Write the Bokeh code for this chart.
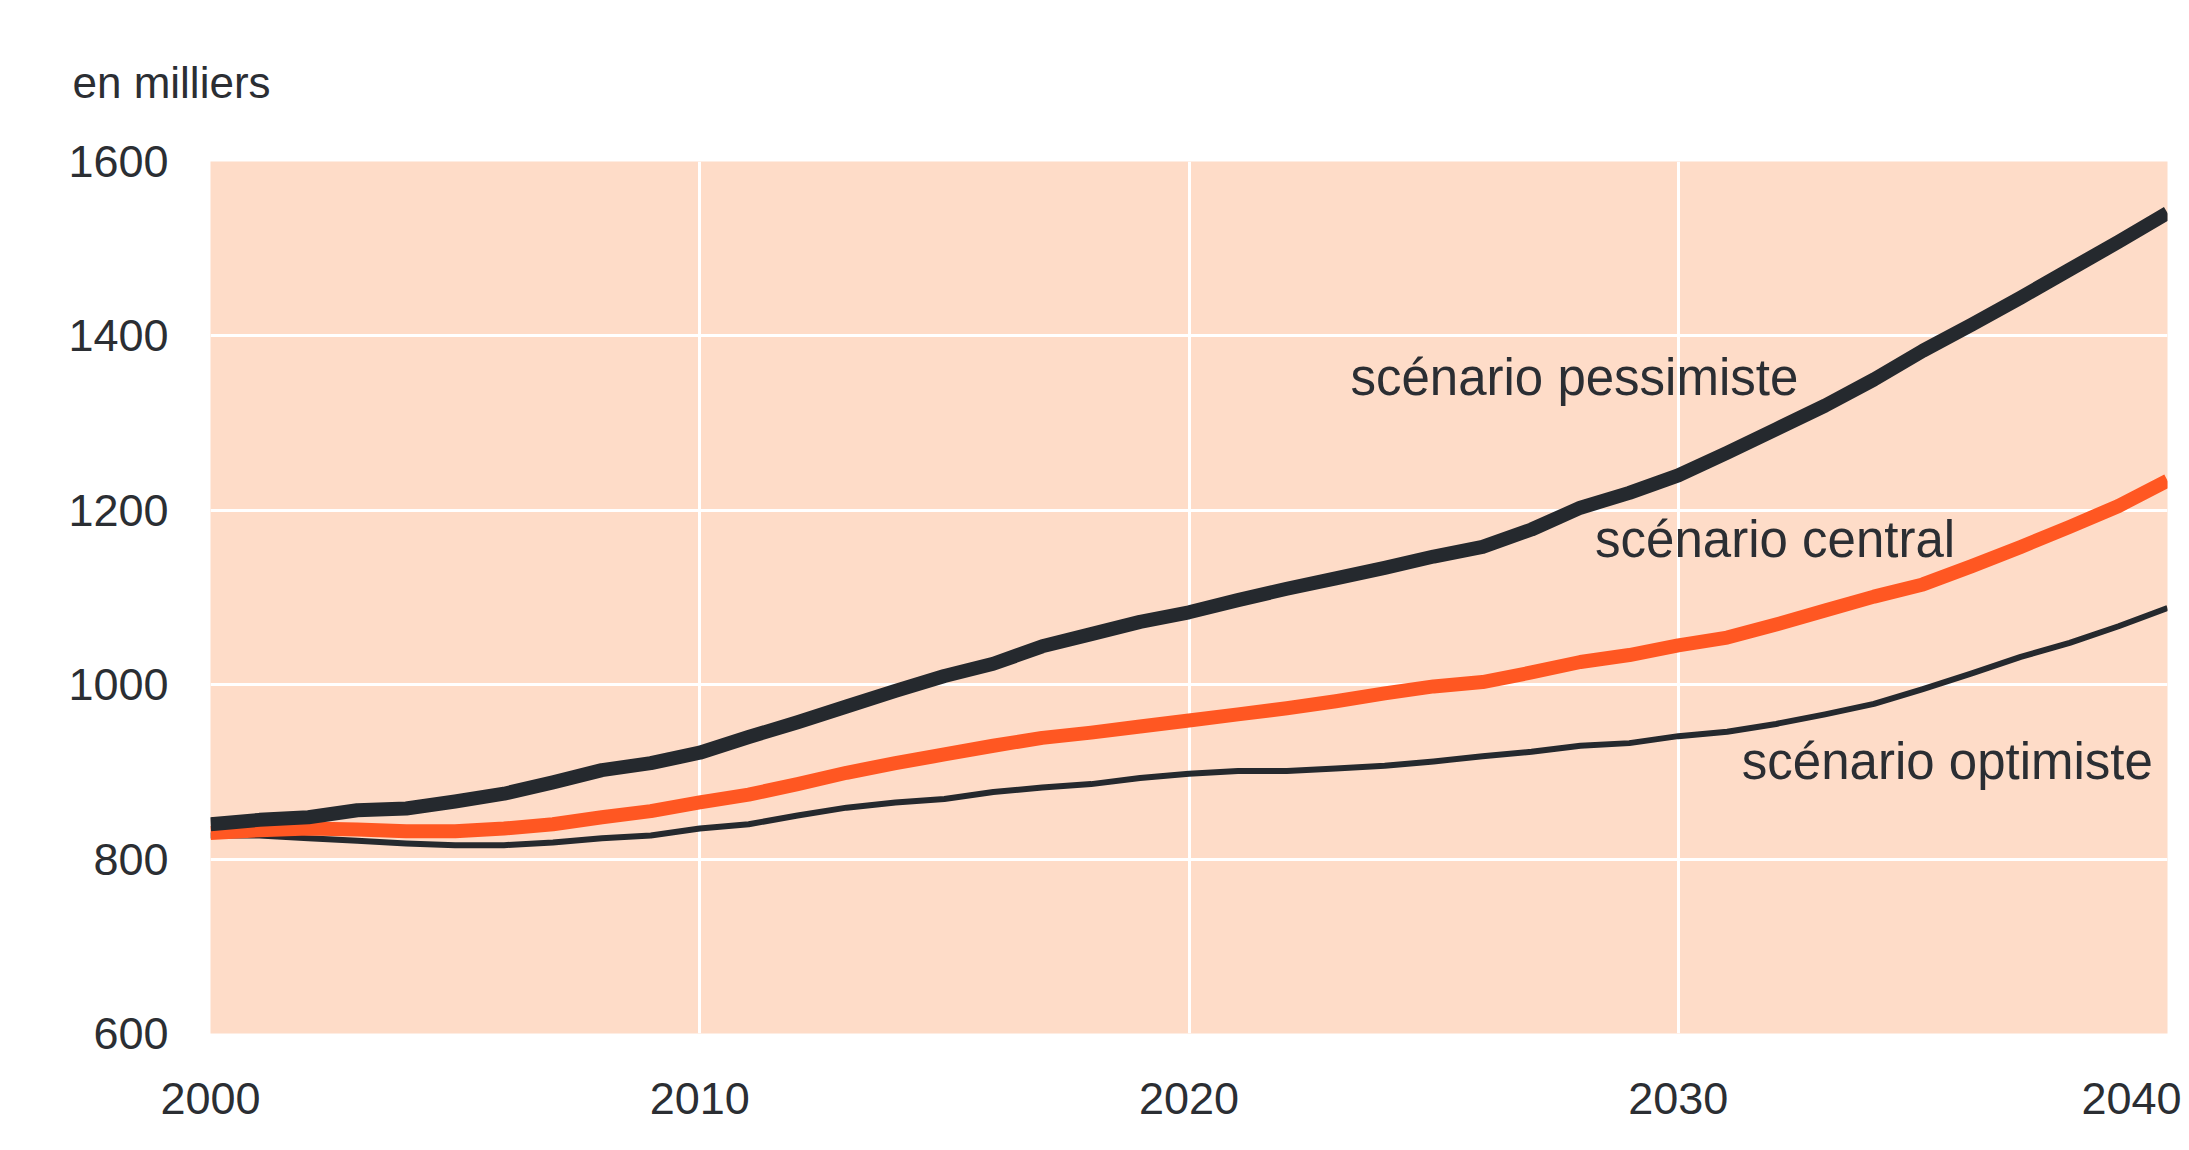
from bokeh.plotting import figure
from bokeh.models import Range1d, FixedTicker, Label
from bokeh.embed import file_html
from bokeh.resources import INLINE

years = list(range(2000, 2041))
pessimiste = [840, 845, 848, 856, 858, 866, 875, 888, 902, 910,
              922, 940, 957, 975, 993, 1010, 1024, 1044, 1058, 1072,
              1083, 1097, 1110, 1122, 1134, 1147, 1158, 1178, 1203, 1220,
              1240, 1266, 1293, 1320, 1350, 1383, 1413, 1444, 1476, 1508, 1541]
central = [830, 833, 835, 834, 832, 832, 835, 840, 848, 855,
           865, 874, 886, 899, 910, 920, 930, 939, 945, 952,
           959, 966, 973, 981, 990, 998, 1003, 1014, 1026, 1034,
           1045, 1054, 1069, 1085, 1101, 1115, 1136, 1158, 1181, 1205, 1234]
optimiste = [827, 827, 824, 821, 818, 816, 816, 819, 824, 827,
             835, 840, 850, 859, 865, 869, 877, 882, 886, 893,
             898, 901, 901, 904, 907, 912, 918, 923, 930, 933,
             941, 946, 955, 966, 978, 995, 1013, 1032, 1048, 1067, 1088]

x_ticks = [2000, 2010, 2020, 2030, 2040]
y_ticks = [600, 800, 1000, 1200, 1400, 1600]

series_labels = ["scénario pessimiste", "scénario central", "scénario optimiste"]
label_x = [2023.3, 2028.3, 2031.3]
label_y = [1352, 1166, 912]
unit_text = "en milliers"

FONT = "Liberation Sans Narrow, Liberation Sans, sans-serif"
DARK = "#25292e"
ORANGE = "#ff5722"
TEXT = "#2b2e33"

p = figure(width=2181, height=1142, output_backend="svg", toolbar_location=None,
           x_range=Range1d(2000, 2040), y_range=Range1d(600, 1600),
           min_border_left=210, min_border_right=14, min_border_top=161,
           min_border_bottom=109, title=unit_text)
p.background_fill_color = "#fedcc8"
p.border_fill_color = "white"
p.outline_line_color = None

p.title.text_font = FONT
p.title.text_font_size = "44px"
p.title.text_font_style = "normal"
p.title.text_color = TEXT
p.title.align = "left"
p.title.offset = -138
p.title.standoff = 110

for ax in (p.xaxis, p.yaxis):
    ax.axis_line_color = None
    ax.major_tick_line_color = None
    ax.minor_tick_line_color = None
    ax.major_tick_out = 0
    ax.major_tick_in = 0
    ax.major_label_text_font = FONT
    ax.major_label_text_color = TEXT
    ax.major_label_text_font_size = "45px"

p.xaxis.ticker = FixedTicker(ticks=x_ticks)
p.yaxis.ticker = FixedTicker(ticks=y_ticks)
p.xaxis.major_label_standoff = 49
p.yaxis.major_label_standoff = 42

p.xgrid.ticker = FixedTicker(ticks=x_ticks)
p.ygrid.ticker = FixedTicker(ticks=y_ticks)
p.xgrid.grid_line_color = "white"
p.ygrid.grid_line_color = "white"
p.xgrid.grid_line_width = 3
p.ygrid.grid_line_width = 3

p.line(years, optimiste, line_color=DARK, line_width=6, line_join="round")
p.line(years, central, line_color=ORANGE, line_width=14, line_join="round")
p.line(years, pessimiste, line_color=DARK, line_width=14, line_join="round")

for t, lx, ly in zip(series_labels, label_x, label_y):
    p.add_layout(Label(x=lx, y=ly, text=t, text_font=FONT, text_font_size="51px",
                       text_color=TEXT, text_baseline="middle", text_align="left"))

open("out.html", "w").write(file_html(p, INLINE))
